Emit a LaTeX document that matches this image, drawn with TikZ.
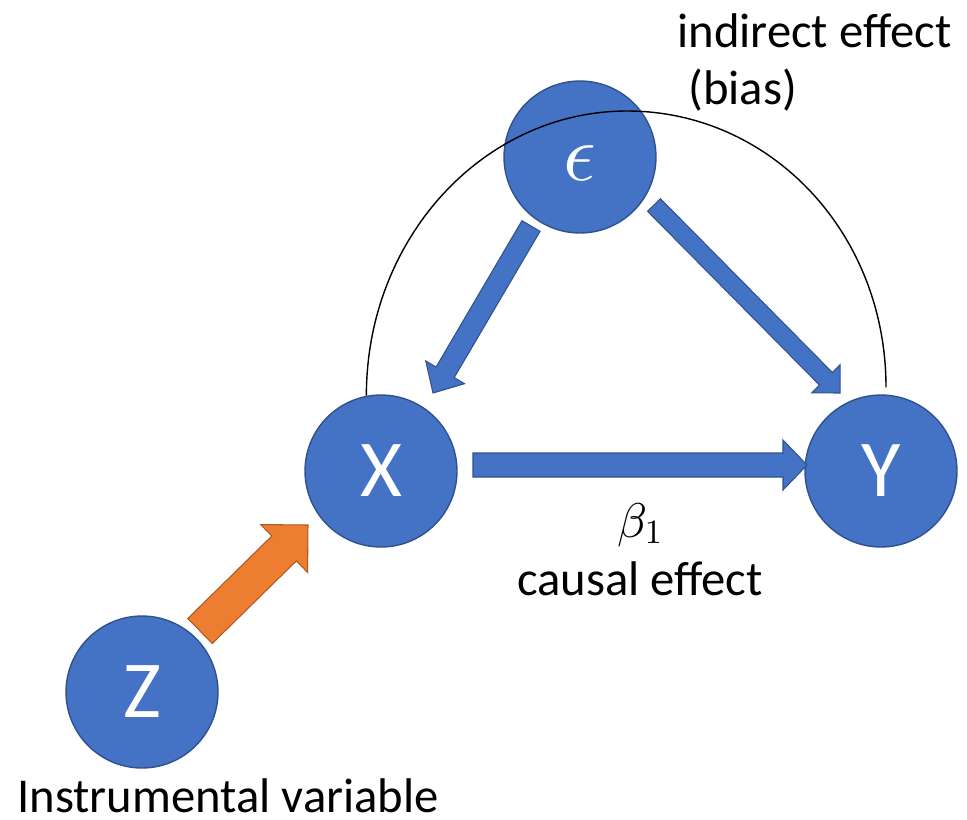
\documentclass[tikz,border=0pt]{standalone}
\usepackage{fontspec}
\setmainfont{Carlito}
\usepackage{amsmath}
\DeclareFontShape{OML}{cmm}{m}{it}{<->cmmi10}{}
\DeclareFontShape{OT1}{cmr}{m}{n}{<->cmr10}{}
\definecolor{nodeblue}{RGB}{68, 114, 196}
\definecolor{nodeedge}{RGB}{47, 82, 143}
\definecolor{ivorange}{RGB}{237, 125, 49}
\definecolor{ivedge}{RGB}{174, 90, 33}
\usetikzlibrary{calc}

% block arrow: [style]{tail}{tip}{half shaft}{half head}{head length}
\newcommand{\blockarrow}[6][]{%
  \coordinate (ba-neck) at ($(#3)!#6!(#2)$);
  \filldraw[#1] ($(#2)!#4!90:(#3)$) -- ($(ba-neck)!#4!-90:(#2)$)
    -- ($(ba-neck)!#5!-90:(#2)$) -- (#3)
    -- ($(ba-neck)!#5!90:(#2)$) -- ($(ba-neck)!#4!90:(#2)$)
    -- ($(#2)!#4!-90:(#3)$) -- cycle;
}

\begin{document}
\begin{tikzpicture}[x=0.02cm, y=-0.02cm,
  varnode/.style={circle, fill=nodeblue, draw=nodeedge, line width=0.8pt,
    minimum size=3.04cm, inner sep=0pt, text=white,
    font=\fontsize{46}{50}\selectfont},
  lbl/.style={font=\fontsize{27.7}{33}\selectfont, inner sep=0pt},
  bluearrow/.style={fill=nodeblue, draw=nodeedge, line width=0.6pt},
  ivarrow/.style={fill=ivorange, draw=ivedge, line width=0.6pt}]
  \useasboundingbox (0,0) rectangle (967,819);

  % Variables
  \node[varnode, text height=0.95cm, text depth=0pt] (eps) at (580,157) {$\epsilon$};
  \node[varnode] (X) at (381,471) {X};
  \node[varnode] (Y) at (881,471) {Y};
  \node[varnode] (Z) at (142,692) {Z};

  % Arrow ends
  \coordinate (ex-tail) at (531,226);
  \coordinate (ex-tip) at (433,393);
  \coordinate (ey-tail) at (654,205);
  \coordinate (ey-tip) at (840,393);
  \coordinate (xy-tail) at (473,465);
  \coordinate (xy-tip) at (807,465);
  \coordinate (zx-tail) at (200,631);
  \coordinate (zx-tip) at (308,525);

  \blockarrow[bluearrow]{ex-tail}{ex-tip}{0.21cm}{0.45cm}{0.48cm}
  \blockarrow[bluearrow]{ey-tail}{ey-tip}{0.18cm}{0.40cm}{0.40cm}
  \blockarrow[bluearrow]{xy-tail}{xy-tip}{0.24cm}{0.50cm}{0.48cm}
  \blockarrow[ivarrow]{zx-tail}{zx-tip}{0.35cm}{0.67cm}{0.67cm}

  % Indirect path
  \coordinate (arctop) at (627,111);
  \coordinate (arcend) at ($(Y.north)+(5,-7)$);
  \draw[line width=0.8pt] (X.101) .. controls +(0,-158) and +(-143,0) .. (arctop)
    .. controls +(143,0) and +(0,-155) .. (arcend);

  % Labels
  \node[lbl, anchor=base west] (indirect) at (677,47) {indirect effect};
  \node[lbl, anchor=base west] (bias) at (688,104) {(bias)};
  \node[lbl, anchor=base] (beta) at (640,537) {$\beta_1$};
  \node[lbl, anchor=base] (causal) at (640,595) {causal effect};
  \node[lbl, anchor=base west] (instr) at (17,812) {Instrumental variable};
\end{tikzpicture}
\end{document}
